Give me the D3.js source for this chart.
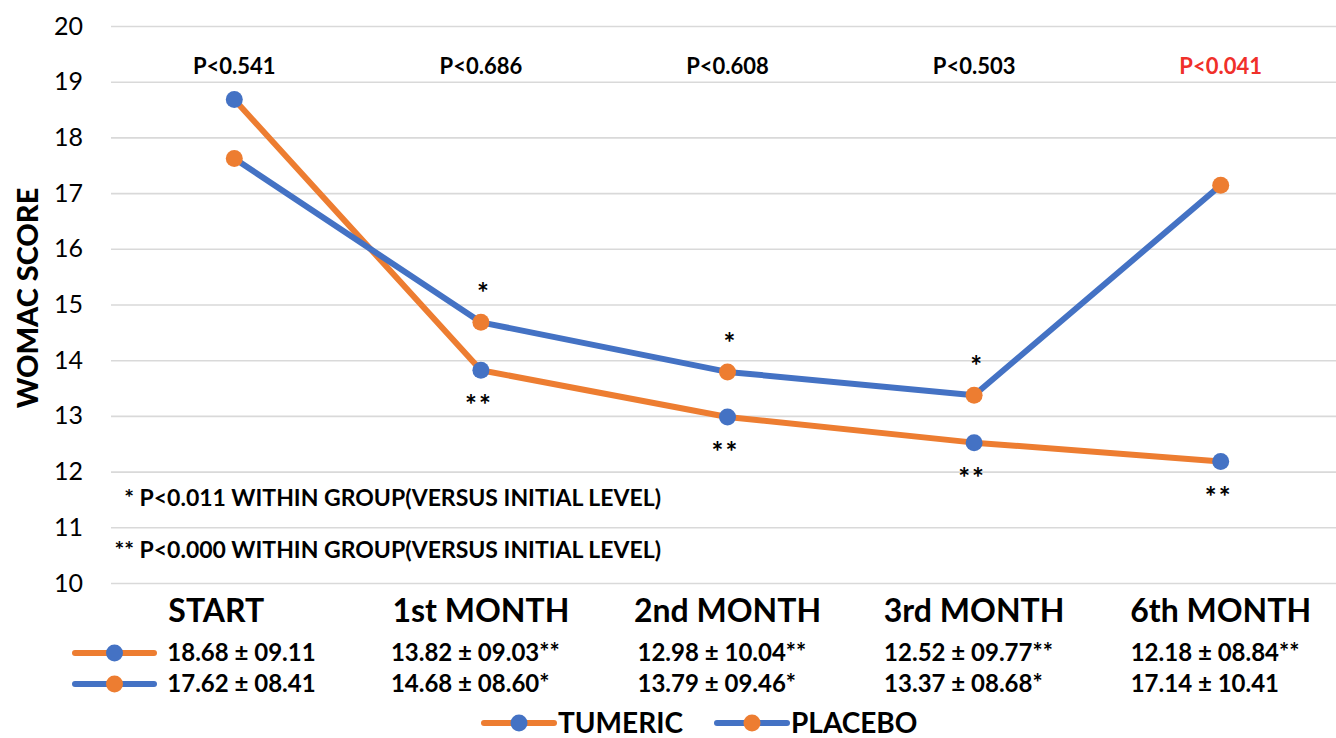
<!DOCTYPE html>
<html>
<head>
<meta charset="utf-8">
<script src="https://cdn.jsdelivr.net/npm/d3@7"></script>
<style>
  html, body { margin: 0; padding: 0; background: #ffffff; }
  svg { display: block; font-family: Lato, "Noto Sans", sans-serif; }
</style>
</head>
<body>
<svg id="chart" width="1336" height="738"></svg>
<script>
// WOMAC score over time, turmeric vs placebo
const categories = ["START", "1st MONTH", "2nd MONTH", "3rd MONTH", "6th MONTH"];
const tumeric = [18.68, 13.82, 12.98, 12.52, 12.18];
const placebo = [17.62, 14.68, 13.79, 13.37, 17.14];
const tumericSD = ["09.11", "09.03", "10.04", "09.77", "08.84"];
const placeboSD = ["08.41", "08.60", "09.46", "08.68", "10.41"];
const tumericMark = ["", "**", "**", "**", "**"];
const placeboMark = ["", "*", "*", "*", ""];
const pValues = ["P<0.541", "P<0.686", "P<0.608", "P<0.503", "P<0.041"];
const pSignificant = [false, false, false, false, true];
const yTicks = [10, 11, 12, 13, 14, 15, 16, 17, 18, 19, 20];
const footnotes = [
  "* P<0.011 WITHIN GROUP(VERSUS INITIAL LEVEL)",
  "** P<0.000 WITHIN GROUP(VERSUS INITIAL LEVEL)"
];
const seriesNames = ["TUMERIC", "PLACEBO"];

const ORANGE = "#ed7d31";
const BLUE = "#4472c4";
const GRID = "#d9d9d9";

const W = 1336, H = 738;
const plot = { left: 111, right: 1344, top: 26, bottom: 583 };

const svg = d3.select("#chart");

const x = d3.scaleBand().domain(categories).range([plot.left, plot.right]);
const cx = c => x(c) + x.bandwidth() / 2;
const y = d3.scaleLinear().domain([10, 20]).range([plot.bottom, plot.top]);

// gridlines + tick labels
const yAxis = d3.axisLeft(y)
  .tickValues(yTicks)
  .tickFormat(d3.format("d"))
  .tickSize(-(W - plot.left))
  .tickPadding(28);

const gy = svg.append("g")
  .attr("transform", `translate(${plot.left},0)`)
  .call(yAxis);
gy.select(".domain").remove();
gy.selectAll(".tick line").attr("stroke", GRID).attr("stroke-width", 1.6);
gy.selectAll(".tick text")
  .attr("fill", "#000")
  .style("font-family", "Lato, sans-serif")
  .style("font-size", "25px");

// axis title
svg.append("text")
  .attr("transform", "translate(26,298) rotate(-90)")
  .attr("text-anchor", "middle")
  .attr("dominant-baseline", "central")
  .style("font-size", "29px")
  .style("font-weight", 900)
  .text("WOMAC SCORE");

// p-values between groups
const pRow = svg.append("g");
pRow.selectAll("text")
  .data(categories)
  .join("text")
  .attr("x", c => cx(c))
  .attr("y", 74)
  .attr("text-anchor", "middle")
  .style("font-size", "22px")
  .style("font-weight", 700)
  .attr("fill", (c, i) => pSignificant[i] ? "#f0302a" : "#000")
  .text((c, i) => pValues[i]);

// series: orange line with blue markers (TUMERIC), blue line with orange markers (PLACEBO)
const series = [
  { name: seriesNames[0], values: tumeric, line: ORANGE, marker: BLUE },
  { name: seriesNames[1], values: placebo, line: BLUE, marker: ORANGE }
];

const lineGen = d3.line()
  .x((d, i) => cx(categories[i]))
  .y(d => y(d));

series.forEach(s => {
  const g = svg.append("g");
  g.append("path")
    .datum(s.values)
    .attr("d", lineGen)
    .attr("fill", "none")
    .attr("stroke", s.line)
    .attr("stroke-width", 6)
    .attr("stroke-linejoin", "round");
  g.selectAll("circle")
    .data(s.values)
    .join("circle")
    .attr("cx", (d, i) => cx(categories[i]))
    .attr("cy", d => y(d))
    .attr("r", 8.5)
    .attr("fill", s.marker);
});

// significance marks: ** below turmeric points, * above placebo points
svg.append("g").selectAll("text")
  .data(tumeric)
  .join("text")
  .attr("x", (d, i) => cx(categories[i]) - 2)
  .attr("y", d => y(d) + 45)
  .attr("text-anchor", "middle")
  .style("font-size", "28px")
  .style("font-weight", 700)
  .style("letter-spacing", "2px")
  .text((d, i) => tumericMark[i]);

svg.append("g").selectAll("text")
  .data(placebo)
  .join("text")
  .attr("x", (d, i) => cx(categories[i]) + 2)
  .attr("y", d => y(d) - 19)
  .attr("text-anchor", "middle")
  .style("font-size", "28px")
  .style("font-weight", 700)
  .text((d, i) => placeboMark[i]);

// footnotes
svg.append("g").selectAll("text")
  .data(footnotes)
  .join("text")
  .attr("x", 661)
  .attr("y", (d, i) => 506 + i * 52)
  .attr("text-anchor", "end")
  .style("font-size", "23px")
  .style("font-weight", 700)
  .text(d => d);

// data table under the chart
const table = svg.append("g");
table.selectAll("text.head")
  .data(categories)
  .join("text")
  .attr("class", "head")
  .attr("x", (c, i) => cx(c) - (i === 0 ? 18 : 0))
  .attr("y", 622)
  .attr("text-anchor", "middle")
  .style("font-size", "32px")
  .style("font-weight", 700)
  .text(c => c);

const rows = [
  { values: tumeric, sd: tumericSD, mark: tumericMark, line: ORANGE, marker: BLUE },
  { values: placebo, sd: placeboSD, mark: placeboMark, line: BLUE, marker: ORANGE }
];
const rowBase = [661, 692];

rows.forEach((r, ri) => {
  const base = rowBase[ri];
  table.append("g").selectAll("text")
    .data(r.values)
    .join("text")
    .attr("x", (d, i) => cx(categories[i]) - (i === 0 ? 67 : 90))
    .attr("y", base)
    .style("font-size", "24px")
    .style("font-weight", 700)
    .text((d, i) => `${d.toFixed(2)} ± ${r.sd[i]}${r.mark[i]}`);
  const ky = base - 8;
  table.append("line")
    .attr("x1", 75).attr("x2", 154)
    .attr("y1", ky).attr("y2", ky)
    .attr("stroke", r.line).attr("stroke-width", 6).attr("stroke-linecap", "round");
  table.append("circle")
    .attr("cx", 114.5).attr("cy", ky).attr("r", 8.5)
    .attr("fill", r.marker);
});

// legend
const legendItems = [
  { name: seriesNames[0], line: ORANGE, marker: BLUE, x: 484 },
  { name: seriesNames[1], line: BLUE, marker: ORANGE, x: 717 }
];
const legend = svg.append("g");
legendItems.forEach(it => {
  const g = legend.append("g").attr("transform", `translate(${it.x},723)`);
  g.append("line")
    .attr("x1", 0).attr("x2", 70)
    .attr("stroke", it.line).attr("stroke-width", 6).attr("stroke-linecap", "round");
  g.append("circle").attr("cx", 35).attr("r", 8.5).attr("fill", it.marker);
  g.append("text")
    .attr("x", 74).attr("y", 10)
    .style("font-size", "28px")
    .style("font-weight", 700)
    .text(it.name);
});
</script>
</body>
</html>
